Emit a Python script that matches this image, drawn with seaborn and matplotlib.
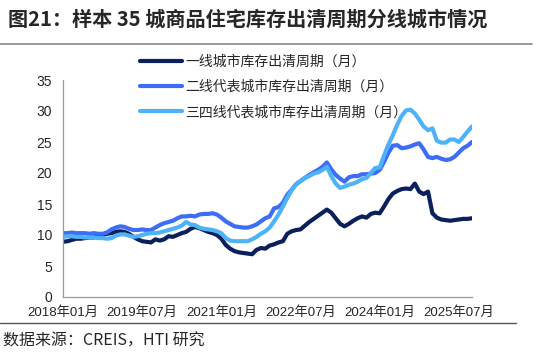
import matplotlib
matplotlib.use("agg")
import matplotlib.pyplot as plt
import pandas as pd
import seaborn as sns

tier1 = [8.9, 9.0, 9.2, 9.4, 9.4, 9.5, 9.6, 9.6, 9.8, 10.0, 10.2, 10.3, 10.5, 10.6, 10.5, 10.2,
         9.7, 9.3, 9.0, 8.9, 8.8, 9.3, 9.1, 9.3, 9.8, 9.7, 10.0, 10.3, 10.5, 11.0, 11.3, 11.1,
         10.8, 10.5, 10.3, 10.0, 9.4, 8.4, 7.8, 7.4, 7.2, 7.1, 7.0, 6.9, 7.6, 7.9, 7.8, 8.3,
         8.5, 8.8, 9.0, 10.2, 10.6, 10.8, 10.9, 11.5, 12.1, 12.6, 13.1, 13.6, 14.1, 13.6, 12.7, 11.8,
         11.4, 11.8, 12.3, 12.7, 13.0, 12.8, 13.4, 13.6, 13.5, 14.6, 15.8, 16.7, 17.1, 17.4, 17.5, 17.4,
         18.3, 17.0, 16.6, 17.0, 13.5, 12.8, 12.5, 12.4, 12.3, 12.4, 12.5, 12.6, 12.6, 12.7]
tier2 = [10.3, 10.3, 10.4, 10.3, 10.3, 10.3, 10.2, 10.3, 10.2, 10.2, 10.4, 10.9, 11.2, 11.4, 11.3, 11.0,
         10.8, 10.8, 10.9, 10.8, 10.8, 11.2, 11.6, 11.9, 12.1, 12.3, 12.7, 13.0, 13.0, 13.1, 13.0, 13.3,
         13.4, 13.4, 13.5, 13.3, 12.8, 12.2, 11.8, 11.4, 11.3, 11.2, 11.2, 11.4, 11.7, 12.2, 12.7, 13.0,
         14.3, 14.5, 15.2, 16.5, 17.3, 18.2, 18.7, 19.2, 19.7, 20.1, 20.5, 21.0, 21.7, 20.6, 19.7, 19.1,
         18.6, 19.3, 19.5, 19.5, 19.8, 19.8, 19.9, 20.0, 20.5, 21.8, 23.3, 24.4, 24.5, 24.0, 24.1, 24.3,
         24.6, 24.8, 23.8, 22.6, 22.4, 22.6, 22.3, 22.1, 22.2, 22.6, 23.3, 24.0, 24.4, 25.0]
tier34 = [9.7, 9.8, 9.8, 9.7, 9.7, 9.6, 9.6, 9.6, 9.5, 9.5, 9.4, 9.5, 9.9, 10.1, 10.1, 9.9,
          9.7, 9.8, 10.0, 10.2, 10.3, 10.3, 10.4, 10.6, 10.8, 11.0, 11.2, 11.5, 12.1, 11.7, 11.6, 11.2,
          11.0, 10.9, 10.8, 10.6, 10.3, 9.5, 9.1, 9.0, 9.0, 9.0, 9.0, 9.3, 9.7, 10.2, 10.6, 11.2,
          12.2, 13.3, 14.6, 16.0, 17.2, 18.2, 18.7, 19.2, 19.5, 19.9, 20.1, 20.5, 21.0, 19.5, 18.3, 17.6,
          17.8, 18.1, 18.3, 18.6, 19.0, 19.2, 20.0, 20.8, 20.9, 22.8, 24.6, 26.1, 27.8, 29.2, 30.1, 30.2,
          29.6, 28.6, 27.5, 26.9, 27.2, 25.2, 24.9, 24.9, 25.4, 25.4, 25.0, 25.8, 26.7, 27.5]

# monthly from 2018-01
months = pd.date_range("2018-01-01", periods=len(tier1), freq="MS")

names = ["一线城市库存出清周期（月）", "二线代表城市库存出清周期（月）", "三四线代表城市库存出清周期（月）"]
colors = ["#0b1f5c", "#3d6cf5", "#4eb2f6"]

frames = []
for name, vals in zip(names, [tier1, tier2, tier34]):
    frames.append(pd.DataFrame({"pos": range(len(vals)), "value": vals, "series": name}))
df = pd.concat(frames, ignore_index=True)

sns.set_style("white")
plt.rcParams["font.family"] = ["Liberation Sans", "Noto Sans CJK SC", "DejaVu Sans"]

fig = plt.figure(figsize=(5.37, 3.55), dpi=100)
ax = fig.add_axes([63 / 537, 1 - 297 / 355, 409 / 537, 217 / 355])

sns.lineplot(data=df, x="pos", y="value", hue="series", hue_order=names, palette=colors,
             linewidth=3.0, ax=ax, legend=False)

pos = list(range(len(months)))
ax.set_xlim(0, len(months) - 1)
ax.set_ylim(0, 35)
ax.set_yticks(range(0, 36, 5))
ax.set_xticks(pos)
ax.set_xticklabels([m.strftime("%Y年%m月") if i % 18 == 0 else "" for i, m in enumerate(months)])
ax.tick_params(axis="x", length=4, width=0.6, color="#888888", labelsize=9.5, pad=3, direction="out")
ax.tick_params(axis="y", length=4, width=0.8, color="#888888", labelsize=10, pad=4, direction="out")
ax.set_xlabel("")
ax.set_ylabel("")
for s in ["top", "right"]:
    ax.spines[s].set_visible(False)
for s in ["left", "bottom"]:
    ax.spines[s].set_color("#999999")
    ax.spines[s].set_linewidth(0.9)

handles = [plt.Line2D([], [], color=c, linewidth=3.0) for c in colors]
fig.legend(handles, names, loc="upper left", bbox_to_anchor=(140 / 537, 1 - 55 / 355),
           bbox_transform=fig.transFigure, frameon=False,
           handlelength=3.0, handletextpad=0.25, labelspacing=0.8, borderpad=0, borderaxespad=0,
           prop={"family": ["Noto Sans CJK SC"], "size": 10})

fig.text(8 / 537, 1 - 19 / 355, "图21：样本 35 城商品住宅库存出清周期分线城市情况",
         fontsize=14.5, fontweight="bold", va="center", ha="left",
         family=["Noto Sans CJK SC", "DejaVu Sans"])
fig.add_artist(plt.Line2D([0, 0.99], [1 - 44 / 355, 1 - 44 / 355], color="#888888", linewidth=1.2))
fig.add_artist(plt.Line2D([0, 0.96], [1 - 323 / 355, 1 - 323 / 355], color="#555555", linewidth=1.0))
fig.text(3 / 537, 1 - 341 / 355, "数据来源：CREIS，HTI 研究", fontsize=11.5, va="center", ha="left",
         family=["Noto Sans CJK SC", "DejaVu Sans"])

fig.savefig("out.png", dpi=100)
